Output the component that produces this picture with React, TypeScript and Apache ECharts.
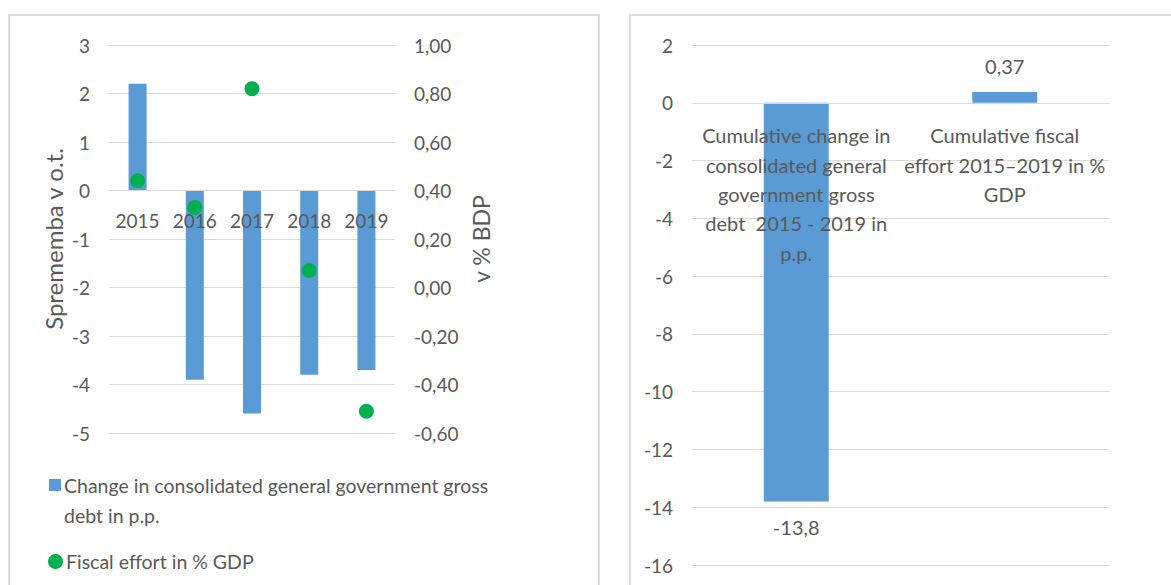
import React, { useEffect, useRef } from "react";
import * as echarts from "echarts";

// Annual data, 2015–2019
const years = ["2015", "2016", "2017", "2018", "2019"];
const debtChange = [2.2, -3.9, -4.6, -3.8, -3.7]; // p.p.
const fiscalEffort = [0.44, 0.33, 0.82, 0.07, -0.51]; // % GDP

// Cumulative figures, 2015–2019
const cumulativeCategories = [
  "Cumulative change in\nconsolidated general\ngovernment gross\ndebt  2015 - 2019 in\np.p.",
  "Cumulative fiscal\neffort 2015\u20132019 in %\nGDP",
];
const cumulativeValues = [-13.8, 0.37];

// Axis ranges
const leftMin = -5, leftMax = 3, leftStep = 1;
const pctMin = -0.6, pctMax = 1.0, pctStep = 0.2;
const cumMin = -16, cumMax = 2, cumStep = 2;

const debtSeriesName = "Change in consolidated general government gross debt in p.p.";
const effortSeriesName = "Fiscal effort in % GDP";

const FONT = "Lato";
const TEXT = "#595959";
const GRID_LINE = "#d9d9d9";
const BLUE = "#5b9bd5";
const GREEN = "#00b050";
const FS = 19;

const comma = (v: number, digits?: number) =>
  (digits === undefined ? String(v) : v.toFixed(digits)).replace(".", ",");

export default function App() {
  const ref = useRef<HTMLDivElement>(null);

  useEffect(() => {
    if (!ref.current) return;
    const chart = echarts.init(ref.current, undefined, { renderer: "svg" });

    const axisText = { color: TEXT, fontFamily: FONT, fontSize: FS };
    // category axis line drawn in the same tone as the gridlines
    const catLine = { show: true, onZero: false, lineStyle: { color: GRID_LINE, width: 1 } };

    chart.setOption({
      animation: false,
      textStyle: { fontFamily: FONT, color: TEXT },
      graphic: [
        {
          type: "rect",
          z: -10,
          shape: { x: 9, y: 15, width: 590, height: 620 },
          style: { fill: "#fff", stroke: "#dcdcdc", lineWidth: 2 },
        },
        {
          type: "rect",
          z: -10,
          shape: { x: 630, y: 15, width: 600, height: 620 },
          style: { fill: "#fff", stroke: "#dcdcdc", lineWidth: 2 },
        },
      ],
      legend: [
        {
          data: [{ name: debtSeriesName, icon: "rect" }],
          left: 49,
          top: 440,
          padding: 0,
          itemWidth: 12,
          itemHeight: 12,
          selectedMode: false,
          // leading empty line keeps the marker level with the first text line
          formatter: () =>
            "\nChange in consolidated general government gross\ndebt in p.p.",
          textStyle: {
            ...axisText,
            fontSize: 19.5,
            lineHeight: 30,
            padding: [0, 0, 0, -2],
          },
        },
        {
          data: [{ name: effortSeriesName, icon: "circle" }],
          left: 48,
          top: 551.5,
          padding: 0,
          itemWidth: 15,
          itemHeight: 15,
          selectedMode: false,
          textStyle: { ...axisText, fontSize: 19.5, padding: [0, 0, 0, -2] },
        },
      ],
      grid: [
        { left: 109, right: 776, top: 45, bottom: 152, containLabel: false, outerBoundsMode: "none" },
        { left: 692, right: 62, top: 45, bottom: 20, containLabel: false, outerBoundsMode: "none" },
      ],
      xAxis: [
        {
          type: "category",
          gridIndex: 0,
          data: years,
          z: 10,
          axisLine: catLine,
          axisTick: { show: false },
          axisLabel: { ...axisText, margin: 20, lineHeight: 20, interval: 0 },
        },
        {
          type: "category",
          gridIndex: 1,
          data: cumulativeCategories,
          z: 10,
          axisLine: catLine,
          axisTick: { show: false },
          axisLabel: { ...axisText, fontSize: 20, margin: 18, lineHeight: 29.3, interval: 0 },
        },
      ],
      yAxis: [
        {
          type: "value",
          gridIndex: 0,
          min: leftMin,
          max: leftMax,
          interval: leftStep,
          name: "Sprememba v o.t.",
          nameLocation: "middle",
          nameRotate: 90,
          nameGap: 44,
          nameTextStyle: { color: TEXT, fontFamily: FONT, fontSize: 24 },
          axisLine: { show: false },
          axisTick: { show: false },
          axisLabel: { ...axisText, margin: 19 },
          splitLine: { lineStyle: { color: GRID_LINE, width: 1 } },
        },
        {
          type: "value",
          gridIndex: 0,
          position: "right",
          min: pctMin,
          max: pctMax,
          interval: pctStep,
          name: "v % BDP",
          nameLocation: "middle",
          nameRotate: 90,
          nameGap: 74,
          nameTextStyle: { color: TEXT, fontFamily: FONT, fontSize: 23 },
          axisLine: { show: false },
          axisTick: { show: false },
          axisLabel: {
            ...axisText,
            margin: 19,
            formatter: (v: number) => comma(v, 2),
          },
          splitLine: { show: false },
        },
        {
          type: "value",
          gridIndex: 1,
          min: cumMin,
          max: cumMax,
          interval: cumStep,
          axisLine: { show: false },
          axisTick: { show: false },
          axisLabel: { ...axisText, margin: 19 },
          splitLine: { lineStyle: { color: GRID_LINE, width: 1 } },
        },
      ],
      series: [
        {
          name: debtSeriesName,
          type: "bar",
          xAxisIndex: 0,
          yAxisIndex: 0,
          data: debtChange,
          barWidth: 18,
          itemStyle: { color: BLUE },
        },
        {
          name: effortSeriesName,
          type: "scatter",
          xAxisIndex: 0,
          yAxisIndex: 1,
          data: fiscalEffort,
          symbolSize: 15,
          itemStyle: { color: GREEN, opacity: 1 },
          z: 5,
        },
        {
          name: "cumulative",
          type: "bar",
          xAxisIndex: 1,
          yAxisIndex: 2,
          barWidth: 65,
          itemStyle: { color: BLUE },
          data: cumulativeValues.map((v) => ({
            value: v,
            label: { position: v < 0 ? "bottom" : "top" },
          })),
          label: {
            show: true,
            distance: 16,
            ...axisText,
            fontSize: 20,
            formatter: (p: any) => comma(p.value),
          },
        },
      ],
    });

    // Move each category axis (with its labels) up to the value axis' zero line.
    const shift = (yAxisIndex: number, min: number) =>
      (chart.convertToPixel({ yAxisIndex }, 0) as number) -
      (chart.convertToPixel({ yAxisIndex }, min) as number);
    chart.setOption({
      xAxis: [{ offset: shift(0, leftMin) }, { offset: shift(2, cumMin) }],
    });

    return () => chart.dispose();
  }, []);

  return (
    <div
      ref={ref}
      style={{ position: "fixed", left: 0, top: 0, width: 1171, height: 585, background: "#fff" }}
    />
  );
}
